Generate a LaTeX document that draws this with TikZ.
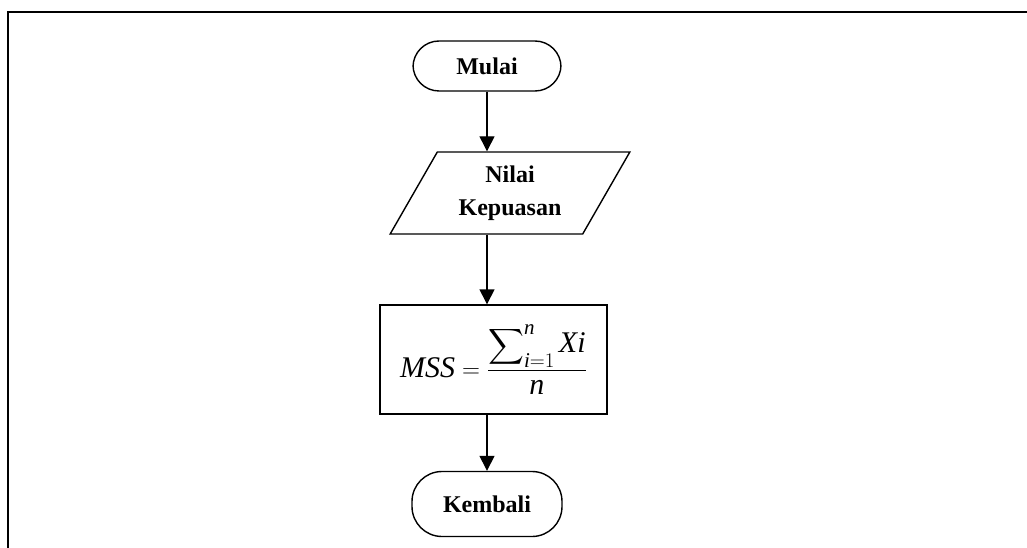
\documentclass[tikz,border=0pt]{standalone}
\usepackage{amsmath}
\usepackage{exscale}
\usepackage{fontspec}
\setmainfont{Liberation Serif}
\usetikzlibrary{shapes.geometric,arrows.meta}
\tikzset{
  flow/.style={draw=black, line width=1.4pt, align=center,
    font=\fontsize{24}{26}\selectfont\bfseries},
  terminal/.style={flow, rounded corners=26pt},
  conn/.style={line width=1.4pt, -{Triangle[length=15pt,width=15pt]}},
}
\begin{document}
\begin{tikzpicture}[x=1pt,y=-1pt]
  \useasboundingbox (0,0) rectangle (1027,548);
  % outer frame, open at the right and bottom
  \draw[line width=2pt] (8,560) -- (8,12) -- (1040,12);

  \node[terminal, minimum width=148pt, minimum height=50pt] (start) at (487,66) {Mulai};
  \node[flow, trapezium, trapezium left angle=60, trapezium right angle=120,
        trapezium stretches=true, minimum width=240pt, minimum height=82pt,
        font=\fontsize{24}{33}\selectfont\bfseries] (input) at (510,193)
        {Nilai\\Kepuasan};
  \node[flow, minimum width=227pt, minimum height=109pt, font=\fontsize{30}{33}\selectfont] (calc) at (493.5,359.5)
        {$\displaystyle\textit{MSS} = \frac{\displaystyle\sum\nolimits_{\textit{i}=1}^{\textit{n}} \textit{Xi}}{\textit{n}}$};
  \node[terminal, minimum width=150pt, minimum height=65pt, rounded corners=30pt] (end) at (487,504) {Kembali};

  \draw[conn] (start.south) -- (start.south |- input.north);
  \draw[conn] (start.south |- input.south) -- (start.south |- calc.north);
  \draw[conn] (start.south |- calc.south) -- (end.north);
\end{tikzpicture}
\end{document}
